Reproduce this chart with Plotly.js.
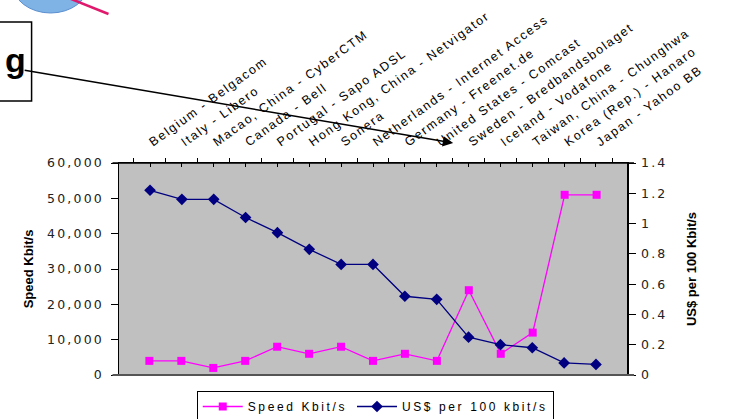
<!DOCTYPE html>
<html>
<head>
<meta charset="utf-8">
<script src="https://cdn.plot.ly/plotly-3.0.1.min.js"></script>
<style>
html,body{margin:0;padding:0;background:#fff;}
#chart{width:729px;height:419px;}
.xtick text{letter-spacing:1.7px;}
.ytick text,.y2tick text{letter-spacing:2.2px;}
.legendtext{letter-spacing:2.6px;}
</style>
</head>
<body>
<div id="chart"></div>
<script>
var categories = ["Belgium - Belgacom","Italy - Libero","Macao, China - CyberCTM","Canada - Bell","Portugal - Sapo ADSL","Hong Kong, China - Netvigator","Sonera","Netherlands - Internet Access","Germany - Freenet.de","United States - Comcast","Sweden - Bredbandsbolaget","Iceland - Vodafone","Taiwan, China - Chunghwa","Korea (Rep.) - Hanaro","Japan - Yahoo BB"];
var speedKbit = [4000,4000,2000,4000,8000,6000,8000,4000,6000,4000,24000,6000,12000,51000,51000];
var usdPer100 = [1.22,1.16,1.16,1.04,0.94,0.83,0.73,0.73,0.52,0.50,0.25,0.20,0.18,0.08,0.07];

var L = 118.5, R = 627, T = 163, B = 375, W = 729, H = 419;
function px(x){return (x-L)/(R-L);}
function py(y){return (B-y)/(B-T);}

var traces = [
  {x:categories, y:speedKbit, name:"Speed Kbit/s", type:"scatter", mode:"lines+markers",
   line:{color:"#ff00ff", width:1.3}, marker:{symbol:"square", size:8, color:"#ff00ff"}},
  {x:categories, y:usdPer100, name:"US$ per 100 kbit/s", type:"scatter", mode:"lines+markers", xaxis:"x2", yaxis:"y2",
   line:{color:"#000080", width:1.3}, marker:{symbol:"diamond", size:9, color:"#000080"}}
];

var tickFont = {family:"DejaVu Sans, Arial, sans-serif", size:12.5, color:"#222"};
var lblFont = {family:"Arial, Liberation Sans, sans-serif", size:13, color:"#000"};

var layout = {
  width:W, height:H,
  margin:{l:L, r:W-R, t:T, b:H-B, pad:0, autoexpand:false},
  paper_bgcolor:"#ffffff", plot_bgcolor:"#c0c0c0",
  showlegend:true,
  legend:{orientation:"h", x:px(375), xanchor:"center", y:py(391), yanchor:"top",
          bordercolor:"#000", borderwidth:1, bgcolor:"#fff",
          font:{family:"Arial, Liberation Sans, sans-serif", size:12, color:"#000"},
          itemwidth:40, tracegroupgap:0},
  xaxis:{type:"category", side:"top", tickangle:-36, showline:true, linecolor:"#000", linewidth:1,
         ticks:"outside", tickson:"boundaries", ticklen:4, tickcolor:"#000", showgrid:false, zeroline:false,
         tickfont:{family:"Arial, Liberation Sans, sans-serif", size:12.5, color:"#000"},
         ticklabelstandoff:9, fixedrange:true},
  xaxis2:{type:"category", overlaying:"x", side:"top", showline:false, showticklabels:false,
         ticks:"inside", ticklen:4, tickcolor:"#000", showgrid:false, zeroline:false, fixedrange:true},
  yaxis:{range:[0,60000], dtick:10000, tickformat:",", showline:true, linecolor:"#000", linewidth:1.5,
         ticks:"outside", ticklen:7, tickcolor:"#000", showgrid:false, zeroline:false, tickfont:tickFont,
         ticklabelstandoff:4,
         title:{text:"<b>Speed Kbit/s</b>", font:lblFont, standoff:10}},
  yaxis2:{range:[0,1.4], dtick:0.2, overlaying:"y", side:"right", showline:true, linecolor:"#000", linewidth:1.5,
         ticks:"outside", ticklen:7, tickcolor:"#000", showgrid:false, zeroline:false, tickfont:tickFont,
         ticklabelstandoff:3,
         title:{text:"<b>US$ per 100 Kbit/s</b>", font:lblFont, standoff:20}},
  shapes:[
    {type:"line", xref:"paper", yref:"paper", x0:px(112), x1:px(634), y0:1, y1:1, line:{color:"#000", width:1.3}},
    {type:"line", xref:"paper", yref:"paper", x0:px(112), x1:px(634), y0:0, y1:0, line:{color:"#555", width:1.8}},
    {type:"circle", xref:"paper", yref:"paper", x0:px(12), x1:px(88), y0:py(13), y1:py(-45),
     fillcolor:"#7fb2e5", line:{color:"#5b8fcf", width:1}, layer:"above"},
    {type:"line", xref:"paper", yref:"paper", x0:px(68), y0:py(-2), x1:px(108), y1:py(14),
     line:{color:"#e0196d", width:2.5}},
    {type:"rect", xref:"paper", yref:"paper", x0:px(-5), x1:px(31), y0:py(101), y1:py(22),
     fillcolor:"#fff", line:{color:"#000", width:1.5}}
  ],
  annotations:[
    {xref:"paper", yref:"paper", x:px(2), y:py(60), text:"<b>g</b>", showarrow:false, xanchor:"left", yanchor:"middle",
     font:{family:"Arial, Liberation Sans, sans-serif", size:34, color:"#000"}},
    {xref:"paper", yref:"paper", x:px(453), y:py(143), ax:23-453, ay:70-143, text:"", showarrow:true,
     arrowhead:2, arrowsize:1.3, arrowwidth:1.6, arrowcolor:"#000"}
  ]
};

Plotly.newPlot("chart", traces, layout, {displayModeBar:false, staticPlot:true});
</script>
</body>
</html>
